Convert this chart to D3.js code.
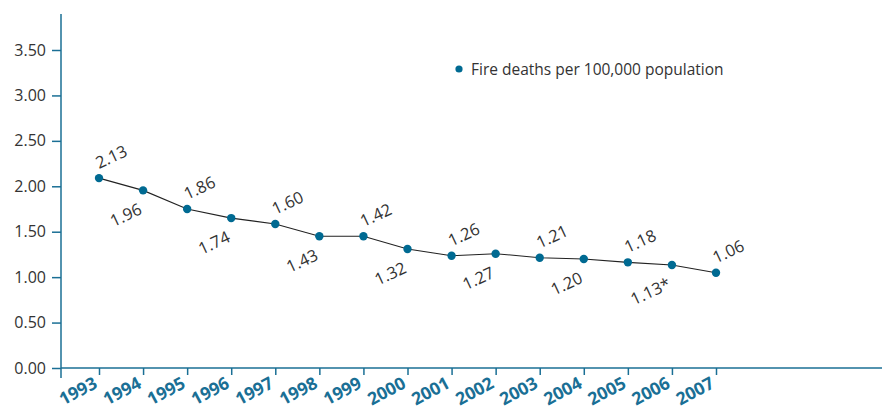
<!DOCTYPE html>
<html><head><meta charset="utf-8">
<script src="https://cdn.jsdelivr.net/npm/d3@7"></script>
<style>
body{margin:0;background:#fff;}
text{font-family:"Open Sans","Noto Sans",sans-serif;}
</style></head>
<body><svg id="c" width="886" height="411"></svg>
<script>
const years = [1993,1994,1995,1996,1997,1998,1999,2000,2001,2002,2003,2004,2005,2006,2007];
const values = [2.09,1.955,1.75,1.65,1.585,1.45,1.45,1.31,1.236,1.258,1.214,1.20,1.163,1.134,1.049];
const labels = ["2.13","1.96","1.86","1.74","1.60","1.43","1.42","1.32","1.26","1.27","1.21","1.20","1.18","1.13*","1.06"];
const labelPos = ["above","below","above","below","above","below","above","below","above","below","above","below","above","below","above"];
const yTicks = [0,0.5,1,1.5,2,2.5,3,3.5];
const legendText = "Fire deaths per 100,000 population";

const axisColor = "#1a6f95", dotColor = "#006a92", textColor = "#333";
const svg = d3.select("#c");
const x = d3.scaleLinear().domain([1993,2007]).range([99,716]);
const y = d3.scaleLinear().domain([0,3.5]).range([368,50]);
const x0 = 61;

// y axis
const ya = svg.append("g").attr("transform",`translate(${x0},0)`)
  .call(d3.axisLeft(y).tickValues(yTicks).tickFormat(d3.format(".2f")).tickSize(9).tickSizeOuter(0));
ya.select(".domain").remove();
ya.selectAll(".tick line").attr("stroke",axisColor).attr("stroke-width",1.5);
ya.selectAll(".tick text").attr("x",-15).attr("fill",textColor).style("font-size","16px").style("font-family","Open Sans");
svg.append("line").attr("x1",x0).attr("x2",x0).attr("y1",14).attr("y2",378).attr("stroke",axisColor).attr("stroke-width",1.5);

// x axis
const xa = svg.append("g").attr("transform",`translate(0,${y(0)})`)
  .call(d3.axisBottom(x).tickValues(years).tickFormat(d3.format("d")).tickSize(7).tickSizeOuter(0));
xa.select(".domain").remove();
xa.selectAll(".tick line").attr("stroke",axisColor).attr("stroke-width",1.5);
xa.selectAll(".tick text").attr("fill",axisColor).style("font-size","17.5px").style("font-weight","bold").style("font-family","Open Sans")
  .attr("text-anchor","end").attr("dy",null).attr("y",0)
  .attr("transform","translate(-1,19) rotate(-28)");
svg.append("line").attr("x1",x0).attr("x2",882).attr("y1",y(0)).attr("y2",y(0)).attr("stroke",axisColor).attr("stroke-width",1.5);

// line
const data = years.map((yr,i)=>({yr, v:values[i], lab:labels[i], pos:labelPos[i]}));
svg.append("path").datum(data).attr("fill","none").attr("stroke","#222").attr("stroke-width",1.1)
  .attr("d", d3.line().x(d=>x(d.yr)).y(d=>y(d.v)));
svg.selectAll("circle.pt").data(data).join("circle").attr("class","pt")
  .attr("cx",d=>x(d.yr)).attr("cy",d=>y(d.v)).attr("r",4.2).attr("fill",dotColor);

svg.selectAll("text.lab").data(data).join("text").attr("class","lab")
  .attr("fill",textColor).style("font-size","16.5px")
  .attr("text-anchor",d=>d.pos==="above"?"start":"end")
  .attr("transform",d=>{
    const px = x(d.yr), py = y(d.v);
    return d.pos==="above" ? `translate(${px},${py-9}) rotate(-25)` : `translate(${px},${py+23}) rotate(-25)`;
  })
  .text(d=>d.lab);

// legend
svg.append("circle").attr("cx",459).attr("cy",69).attr("r",3.6).attr("fill",dotColor);
svg.append("text").attr("x",471).attr("y",75).attr("fill",textColor).style("font-size","15.5px").text(legendText);
</script></body></html>
